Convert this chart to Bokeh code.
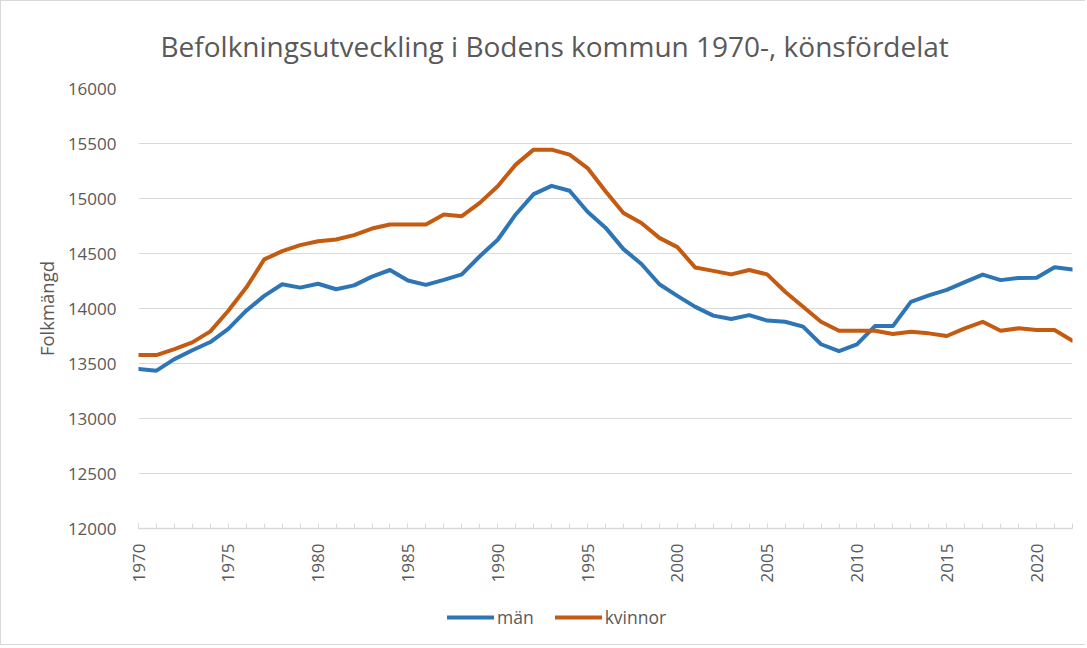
from bokeh.plotting import figure
from bokeh.models import FixedTicker, Range1d, Legend, LegendItem, Title
from bokeh.layouts import column
from bokeh.embed import file_html
from bokeh.resources import INLINE
from math import pi

years = list(range(1970, 2023))
man = [13450, 13435, 13540, 13620, 13695, 13815, 13980, 14115, 14220, 14190,
       14225, 14175, 14210, 14290, 14350, 14255, 14215, 14260, 14310, 14475,
       14625, 14855, 15040, 15115, 15070, 14880, 14735, 14540, 14405, 14220,
       14115, 14015, 13935, 13905, 13940, 13890, 13880, 13835, 13675, 13612,
       13674, 13840, 13840, 14060, 14120, 14170, 14240, 14308, 14258, 14278,
       14279, 14375, 14355]
kvinnor = [13577, 13577, 13631, 13692, 13792, 13980, 14190, 14446, 14521, 14576,
           14612, 14627, 14667, 14727, 14764, 14764, 14764, 14854, 14839, 14960,
           15111, 15308, 15444, 15444, 15399, 15277, 15066, 14869, 14778, 14642,
           14558, 14372, 14342, 14310, 14350, 14310, 14152, 14016, 13879, 13798,
           13798, 13798, 13768, 13789, 13774, 13750, 13820, 13879, 13798, 13820,
           13805, 13805, 13707]
y_ticks = list(range(12000, 16001, 500))
x_label_ticks = list(range(1970, 2021, 5))
title_text = "Befolkningsutveckling i Bodens kommun 1970-, könsfördelat"
y_title = "Folkmängd"
series_names = ["män", "kvinnor"]

FONT = "Open Sans"
TXT = "#595959"
GRID = "#d9d9d9"
BLUE = "#2E75B6"
ORANGE = "#C55A11"
BORDER = "1px solid #d9d9d9"

p = figure(width=1085, height=590, output_backend="svg", toolbar_location=None,
           x_range=Range1d(1970, 2022), y_range=Range1d(12000, 16000),
           min_border_left=137, min_border_right=14, min_border_top=86,
           min_border_bottom=63)
p.outline_line_color = None
p.styles = {"border-left": BORDER, "border-top": BORDER}

r1 = p.line(years, man, line_color=BLUE, line_width=4, line_join="round", line_cap="round")
r2 = p.line(years, kvinnor, line_color=ORANGE, line_width=4, line_join="round", line_cap="round")

p.xgrid.grid_line_color = None
p.ygrid.grid_line_color = GRID
p.ygrid.grid_line_width = 1
p.ygrid.ticker = FixedTicker(ticks=y_ticks)

p.yaxis.ticker = FixedTicker(ticks=y_ticks)
p.yaxis.axis_line_color = None
p.yaxis.major_tick_line_color = None
p.yaxis.minor_tick_line_color = None
p.yaxis.major_label_standoff = 16
p.yaxis.major_label_text_font = FONT
p.yaxis.major_label_text_font_size = "17px"
p.yaxis.major_label_text_color = TXT
p.yaxis.axis_label = y_title
p.yaxis.axis_label_text_font = FONT
p.yaxis.axis_label_text_font_size = "18.5px"
p.yaxis.axis_label_text_font_style = "normal"
p.yaxis.axis_label_text_color = TXT
p.yaxis.axis_label_standoff = 6

p.xaxis.ticker = FixedTicker(ticks=x_label_ticks, minor_ticks=years)
p.xaxis.axis_line_color = GRID
p.xaxis.axis_line_width = 1.5
p.xaxis.major_tick_line_color = GRID
p.xaxis.minor_tick_line_color = GRID
p.xaxis.major_tick_in = 5
p.xaxis.major_tick_out = 0
p.xaxis.minor_tick_in = 5
p.xaxis.minor_tick_out = 0
p.xaxis.major_label_orientation = pi / 2
p.xaxis.major_label_standoff = 15
p.xaxis.major_label_text_font = FONT
p.xaxis.major_label_text_font_size = "17px"
p.xaxis.major_label_text_color = TXT

title = Title(text=title_text, align="left", offset=22, standoff=47,
              text_font=FONT, text_font_size="28px", text_font_style="normal",
              text_color=TXT)
p.add_layout(title, "above")

# legend strip below the chart (its lines fall outside this strip's ranges)
q = figure(width=1085, height=55, output_backend="svg", toolbar_location=None,
           x_range=Range1d(0, 1), y_range=Range1d(0, 1),
           x_axis_type=None, y_axis_type=None, min_border=0)
q.outline_line_color = None
q.xgrid.grid_line_color = None
q.ygrid.grid_line_color = None
q.styles = {"border-left": BORDER, "border-bottom": BORDER}
k1 = q.line(years, man, line_color=BLUE, line_width=4, line_cap="round")
k2 = q.line(years, kvinnor, line_color=ORANGE, line_width=4, line_cap="round")

legend = Legend(items=[LegendItem(label=series_names[0], renderers=[k1]),
                       LegendItem(label=series_names[1], renderers=[k2])],
                orientation="horizontal", location=(309, 16),
                border_line_color=None, background_fill_alpha=0,
                label_text_font=FONT, label_text_font_size="17.5px",
                label_text_color=TXT, glyph_width=47, glyph_height=20,
                label_standoff=3, spacing=21, padding=4, margin=0)
q.add_layout(legend, "center")

layout = column(p, q, spacing=0)
open("out.html", "w").write(file_html(layout, INLINE))
